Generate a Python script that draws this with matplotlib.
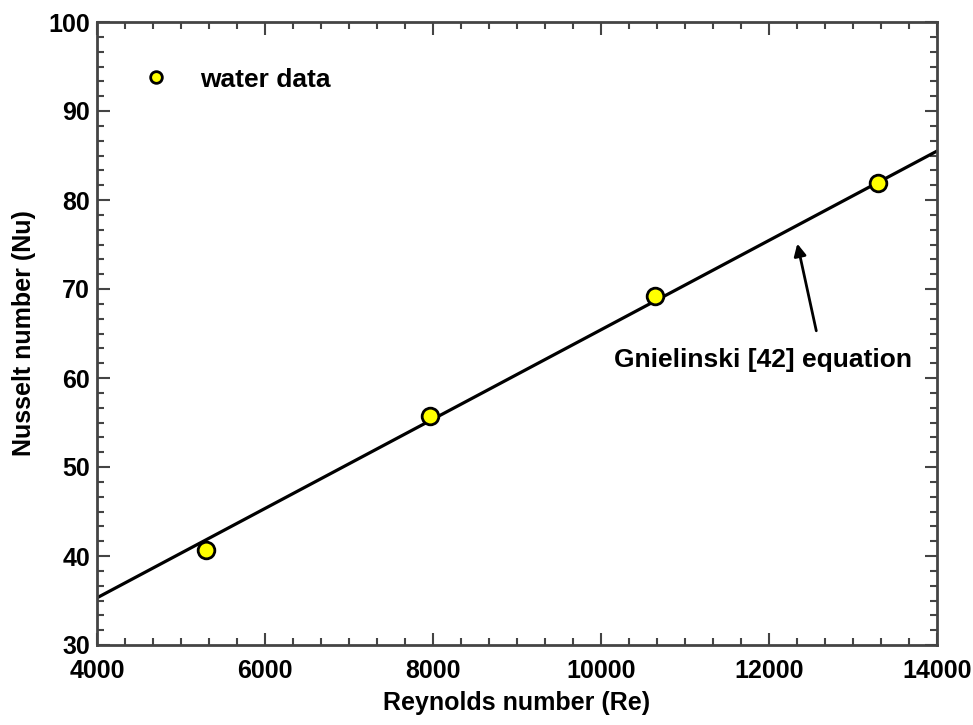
import matplotlib
matplotlib.use("Agg")
import matplotlib.pyplot as plt
from matplotlib.ticker import MultipleLocator, AutoMinorLocator

plt.rcParams['font.family'] = ['Liberation Sans', 'DejaVu Sans']
plt.rcParams['font.weight'] = 'bold'

re_data = [5300, 7970, 10640, 13300]
nu_data = [40.7, 55.7, 69.2, 81.9]
re_line = [4000, 14000]
nu_line = [35.3, 85.5]

fig = plt.figure(figsize=(9.73, 7.25), dpi=100)
ax = fig.add_axes([97/973, 80/725, 840/973, 623/725])

ax.plot(re_line, nu_line, color='black', lw=2.3)
ax.plot(re_data, nu_data, 'o', ms=12, mfc='#ffff00', mec='black', mew=2,
        label='water data', zorder=3)

ax.set_xlim(4000, 14000)
ax.set_ylim(30, 100)
ax.xaxis.set_major_locator(MultipleLocator(2000))
ax.yaxis.set_major_locator(MultipleLocator(10))
ax.xaxis.set_minor_locator(AutoMinorLocator(6))
ax.yaxis.set_minor_locator(AutoMinorLocator(6))
ax.tick_params(which='both', direction='in', top=True, right=True, width=1.5, color='#444444')
ax.tick_params(which='major', length=9, labelsize=18)
ax.tick_params(axis='x', which='major', pad=10)
ax.tick_params(axis='y', which='major', pad=5)
ax.tick_params(which='minor', length=5)
for s in ax.spines.values():
    s.set_linewidth(2)
    s.set_color('#444444')
for lab in ax.get_xticklabels() + ax.get_yticklabels():
    lab.set_fontweight('bold')

ax.set_xlabel('Reynolds number (Re)', fontsize=18, fontweight='bold', labelpad=6)
ax.set_ylabel('Nusselt number (Nu)', fontsize=18, fontweight='bold', labelpad=9)

ax.legend(loc='upper left', bbox_to_anchor=(0.017, 0.965), frameon=False,
          fontsize=19, handletextpad=0.85, markerscale=0.7, numpoints=1,
          handlelength=1.6)

ax.annotate('', xy=(12330, 75.4), xytext=(12570, 65.0),
            arrowprops=dict(arrowstyle='-|>', color='black', lw=2, mutation_scale=18))
ax.text(11930, 62.0, 'Gnielinski [42] equation', ha='center', va='center',
        fontsize=19, fontweight='bold')

fig.savefig('out.png', dpi=100)
